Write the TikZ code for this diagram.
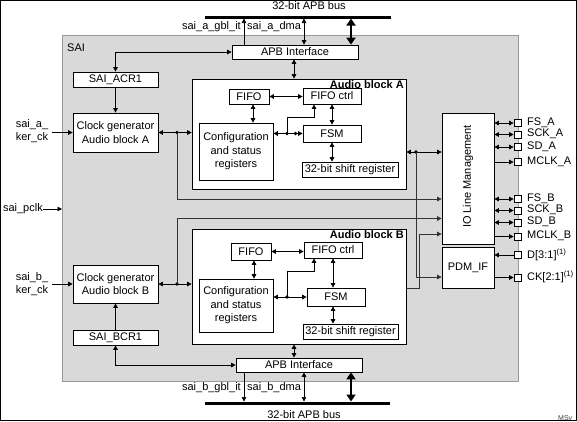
\documentclass[tikz,border=0pt]{standalone}
\usepackage{fontspec}
\setmainfont{Liberation Sans}
\usetikzlibrary{arrows.meta}
\begin{document}
\begin{tikzpicture}[x=1pt,y=-1pt,
  every node/.style={font=\fontsize{11}{13.5}\selectfont, inner sep=0pt},
  box/.style={draw=black, fill=white, line width=0.7pt, align=center},
  ln/.style={line width=0.7pt, draw=black},
  ar/.style={ln, -{Triangle[length=4.5pt,width=4.5pt]}},
  dar/.style={ln, {Triangle[length=4.5pt,width=4.5pt]}-{Triangle[length=4.5pt,width=4.5pt]}},
  gln/.style={draw=black!80},
  jdot/.style={circle, fill=black, minimum size=3.6pt, inner sep=0pt},
  pinbox/.style={draw=black, fill=white, line width=0.7pt, minimum size=7pt},
  busline/.style={line width=3pt},
  busarr/.style={line width=2.6pt, {Triangle[length=7pt,width=9pt]}-{Triangle[length=7pt,width=9pt]}},
  blabel/.style={font=\fontsize{11}{13.5}\selectfont\bfseries, anchor=east},
]
\useasboundingbox (0,0) rectangle (577,421);
\fill[white] (0,0) rectangle (577,421);

% SAI gray block
\draw[draw=black!40, fill=black!15, line width=0.7pt] (62,35) rectangle (518,381);
\node[anchor=west] (sailbl) at (67,48) {SAI};

% buses
\coordinate (tbL) at (205,17); \coordinate (tbR) at (391,17);
\draw[busline] (tbL) -- (tbR);
\node (tbtxt) at (309,6) {32-bit APB bus};
\coordinate (bbL) at (205,403); \coordinate (bbR) at (390,403);
\draw[busline] (bbL) -- (bbR);
\node (bbtxt) at (304,414.5) {32-bit APB bus};

% boxes
\node[box, minimum width=126pt, minimum height=14pt] (apbA) at (295,52) {APB Interface};
\node[box, minimum width=126pt, minimum height=14pt] (apbB) at (299,365) {APB Interface};
\node[box, minimum width=85pt, minimum height=15pt] (acr1) at (115.5,79.5) {SAI\_ACR1};
\node[box, minimum width=85pt, minimum height=39pt] (cgA) at (115.5,132.5) {Clock generator\\Audio block A};
\node[box, minimum width=85pt, minimum height=38pt] (cgB) at (115.5,284) {Clock generator\\Audio block B};
\node[box, minimum width=85pt, minimum height=15pt] (bcr1) at (115.5,337.5) {SAI\_BCR1};

\node[box, minimum width=214pt, minimum height=110pt] (blkA) at (299,134) {};
\node[blabel] (blkAlbl) at (404,85) {Audio block A};
\node[box, minimum width=214pt, minimum height=115pt] (blkB) at (299,286.5) {};
\node[blabel] (blkBlbl) at (404,235) {Audio block B};

\node[box, minimum width=40pt, minimum height=15pt] (fifoA) at (249,96.5) {FIFO};
\node[box, minimum width=58pt, minimum height=16pt] (fctlA) at (332,96) {FIFO ctrl};
\node[box, minimum width=58pt, minimum height=17pt] (fsmA) at (332,133.5) {FSM};
\node[box, minimum width=96pt, minimum height=15pt] (shA) at (350,169.5) {32-bit shift register};
\node[box, minimum width=74pt, minimum height=57pt] (cfgA) at (236,151.5) {Configuration\\and status\\registers};

\node[box, minimum width=40pt, minimum height=17pt] (fifoB) at (251,251.5) {FIFO};
\node[box, minimum width=58pt, minimum height=16pt] (fctlB) at (333,250) {FIFO ctrl};
\node[box, minimum width=58pt, minimum height=18pt] (fsmB) at (336,297) {FSM};
\node[box, minimum width=95pt, minimum height=15pt] (shB) at (350.5,331.5) {32-bit shift register};
\node[box, minimum width=74pt, minimum height=53pt] (cfgB) at (236,305.5) {Configuration\\and status\\registers};

\node[box, minimum width=52pt, minimum height=131pt] (io) at (468,178.5) {};
\node[rotate=90] (iolbl) at (468,176.5) {IO Line Management};
\node[box, minimum width=52pt, minimum height=41pt] (pdm) at (468,267.5) {PDM\_IF};

% top bus connections
\coordinate (tA1) at (244,18.5); \coordinate (tA2) at (304,18.5); \coordinate (tA3) at (351,18.5);
\draw[ar] (apbA.north -| tA1) -- (tA1);
\draw[dar] (apbA.north -| tA2) -- (tA2);
\draw[busarr] (apbA.north -| tA3) -- (tA3);
\node[anchor=east] (gblA) at (241,27) {sai\_a\_gbl\_it};
\node[anchor=west] (dmaA) at (247,27) {sai\_a\_dma};

% bottom bus connections
\coordinate (bA1) at (244,401.5); \coordinate (bA2) at (304,401.5); \coordinate (bA3) at (351,401.5);
\draw[ar] (apbB.south -| bA1) -- (bA1);
\draw[dar] (apbB.south -| bA2) -- (bA2);
\draw[busarr] (apbB.south -| bA3) -- (bA3);
\node[anchor=east] (gblB) at (241,388) {sai\_b\_gbl\_it};
\node[anchor=west] (dmaB) at (247,388) {sai\_b\_dma};

% register / clock connections
\draw[dar] (apbA.west) -| (acr1.north);
\draw[ar] (acr1.south) -- (cgA.north);
\draw[ar] (bcr1.north) -- (cgB.south);
\draw[dar] (bcr1.south) |- (apbB.west);
\draw[dar] (apbA.south -| 294,0) -- (blkA.north -| 294,0);
\draw[dar] (blkB.south -| 294,0) -- (apbB.north -| 294,0);

% inputs
\node[align=center] (akerlbl) at (32,131) {sai\_a\_\\ker\_ck};
\coordinate (akin) at (52,132.5);
\draw[ar] (akin) -- (cgA.west);
\node[align=center] (bkerlbl) at (32,284) {sai\_b\_\\ker\_ck};
\coordinate (bkin) at (52,284);
\draw[ar] (bkin) -- (cgB.west);
\node[anchor=east] (pclk) at (43,209) {sai\_pclk};
\coordinate (grayW) at (62,209);
\draw[ar] (pclk.east) -- (grayW);

% clock gen to audio blocks
\draw[dar] (cgA.east) -- (cgA.east -| blkA.west);
\node[jdot] (jA) at (177,132.5) {};
\draw[ar, gln] (jA.center) |- (io.west |- 0,199);
\draw[dar] (cgB.east) -- (cgB.east -| blkB.west);
\node[jdot] (jB) at (177,284) {};
\draw[ar, gln] (jB.center) |- (io.west |- 0,218.5);

% audio blocks to IO / PDM
\draw[dar] (blkA.east |- 0,152) -- (io.west |- 0,152);
\node[jdot] (jA2) at (416,152) {};
\draw[ar, gln] (jA2.center) |- (pdm.west |- 0,277);
\coordinate (bturn) at (419.5,234);
\draw[ar, gln] (blkB.east |- 0,288) -| (bturn) -- (io.west |- bturn);

% audio block A internals
\draw[dar] (fifoA.east) -- (fifoA.east -| fctlA.west);
\draw[dar] (fifoA.south -| 253,0) -- (cfgA.north -| 253,0);
\draw[dar] (fctlA.south) -- (fsmA.north);
\draw[dar] (fsmA.south) -- (fsmA.south |- shA.north);
\draw[dar] (cfgA.east |- fsmA.west) -- (fsmA.west);
\node[jdot] (dA1) at (287,133.5) {};
\node[jdot] (dA2) at (295.5,133.5) {};
\coordinate (kA) at (314,117);
\draw[ar] (dA1.center) |- (kA) -- (kA |- fctlA.south);

% audio block B internals
\draw[dar] (fifoB.east) -- (fifoB.east -| fctlB.west);
\draw[dar] (fifoB.south -| 254,0) -- (cfgB.north -| 254,0);
\draw[dar] (fctlB.south) -- (fctlB.south |- fsmB.north);
\draw[dar] (fsmB.south -| fctlB.south) -- (fctlB.south |- shB.north);
\draw[dar] (cfgB.east |- fsmB.west) -- (fsmB.west);
\node[jdot] (dB1) at (287,297) {};
\coordinate (kB) at (314,271);
\draw[ar] (dB1.center) |- (kB) -- (kB |- fctlB.south);

% pins
\node[pinbox] (pFSA) at (517.5,123) {};
\node[pinbox] (pSCKA) at (517.5,134.5) {};
\node[pinbox] (pSDA) at (517.5,147) {};
\node[pinbox] (pMA) at (517.5,162) {};
\node[pinbox] (pFSB) at (517.5,199) {};
\node[pinbox] (pSCKB) at (517.5,210.5) {};
\node[pinbox] (pSDB) at (517.5,222.5) {};
\node[pinbox] (pMB) at (517.5,236.5) {};
\node[pinbox] (pD) at (517.5,255) {};
\node[pinbox] (pCK) at (517.5,277.5) {};

\draw[dar] (io.east |- pFSA) -- (pFSA.west);
\draw[dar] (io.east |- pSCKA) -- (pSCKA.west);
\draw[dar] (io.east |- pSDA) -- (pSDA.west);
\draw[ar] (io.east |- pMA) -- (pMA.west);
\draw[dar] (io.east |- pFSB) -- (pFSB.west);
\draw[dar] (io.east |- pSCKB) -- (pSCKB.west);
\draw[dar] (io.east |- pSDB) -- (pSDB.west);
\draw[ar] (io.east |- pMB) -- (pMB.west);
\draw[ar] (pD.west) -- (pdm.east |- pD);
\draw[ar] (pdm.east |- pCK) -- (pCK.west);

\node[anchor=west] (lFSA) at (527,122.5) {FS\_A};
\node[anchor=west] (lSCKA) at (527,134) {SCK\_A};
\node[anchor=west] (lSDA) at (527,146.5) {SD\_A};
\node[anchor=west] (lMA) at (527,161.5) {MCLK\_A};
\node[anchor=west] (lFSB) at (527,198.5) {FS\_B};
\node[anchor=west] (lSCKB) at (527,210) {SCK\_B};
\node[anchor=west] (lSDB) at (527,222) {SD\_B};
\node[anchor=west] (lMB) at (527,236) {MCLK\_B};
\node[anchor=west] (lD) at (527,254.5) {D[3:1]\textsuperscript{(1)}};
\node[anchor=west] (lCK) at (527,277) {CK[2:1]\textsuperscript{(1)}};

% reference code and frame
\node[anchor=base west, font=\fontsize{7}{8}\selectfont, text=black!75] (msv) at (558,420.5) {MSv};
\draw[line width=0.8pt] (0.4,0.4) rectangle (576.2,420.2);
\end{tikzpicture}
\end{document}
